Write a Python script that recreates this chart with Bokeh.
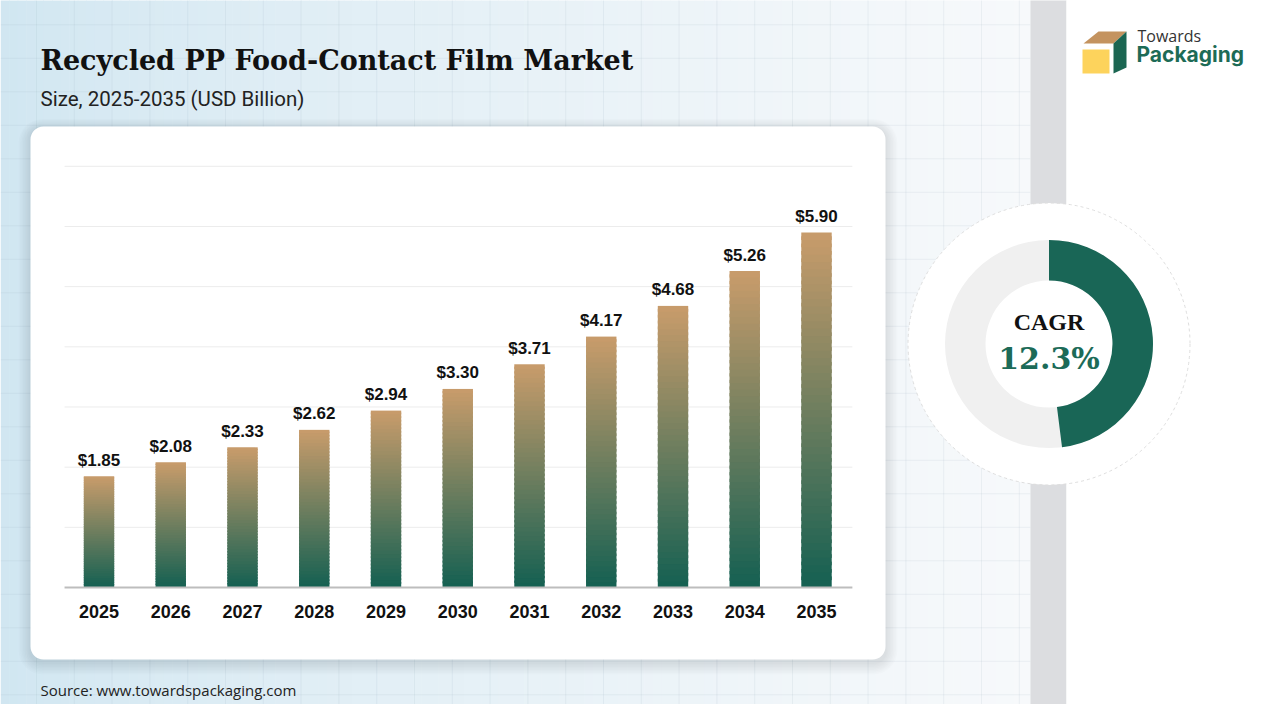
import numpy as np
from bokeh.plotting import figure
from bokeh.models import Range1d, BoxAnnotation
from bokeh.embed import file_html
from bokeh.resources import INLINE
from bokeh.core.properties import value

# ---------------- data ----------------
years = [2025, 2026, 2027, 2028, 2029, 2030, 2031, 2032, 2033, 2034, 2035]
year_labels = ["2025", "2026", "2027", "2028", "2029", "2030", "2031", "2032", "2033", "2034", "2035"]
market_size = [1.85, 2.08, 2.33, 2.62, 2.94, 3.30, 3.71, 4.17, 4.68, 5.26, 5.90]
value_labels = ["$1.85", "$2.08", "$2.33", "$2.62", "$2.94", "$3.30", "$3.71", "$4.17", "$4.68", "$5.26", "$5.90"]
gridline_values = [1, 2, 3, 4, 5, 6, 7]
title_text = "Recycled PP Food-Contact Film Market"
subtitle_text = "Size, 2025-2035 (USD Billion)"
source_text = "Source: www.towardspackaging.com"
cagr_title = "CAGR"
cagr_label = "12.3%"
cagr_arc_share = 0.48

# ---------------- page frame (pixel-like coordinates) ----------------
W, H = 1264, 704


def Y(yi):
    return 720 - yi


def hexc(c):
    c = np.clip(np.round(c), 0, 255).astype(int)
    return "#%02x%02x%02x" % tuple(c)


p = figure(width=W, height=H, x_range=Range1d(0, 1264), y_range=Range1d(16, 720),
           output_backend="svg", toolbar_location=None, min_border=0,
           x_axis_location=None, y_axis_location=None)
p.grid.visible = False
p.outline_line_color = None
p.background_fill_color = "white"
p.border_fill_color = "white"

# data ranges for the bar chart
p.extra_x_ranges = {"yr": Range1d(2023.6272, 2041.2439)}
p.extra_y_ranges = {"val": Range1d(-1.9445, 9.7557)}

# ---------------- background gradient ----------------
n = 120
xs = np.linspace(0, 1030, n + 1)
c0 = np.array([208, 230, 241])
c1 = np.array([247, 249, 251])
mid = (xs[:-1] + xs[1:]) / 2
t = mid / 1030
cols = [hexc(c0 + (c1 - c0) * (tt ** 0.75)) for tt in t]
r = p.quad(left=xs[:-1], right=xs[1:] + 0.6, bottom=0, top=730,
           fill_color=cols, line_color=None)
r.level = "image"

# background grid
vx = np.arange(36, 1030, 37.8)
r = p.segment(x0=vx, x1=vx, y0=0, y1=730, line_color="#8fa9b6", line_alpha=0.13, line_width=1)
r.level = "image"
hy = np.arange(24.3, 720, 33.5)
r = p.segment(x0=0, x1=1030, y0=Y(hy), y1=Y(hy), line_color="#8fa9b6", line_alpha=0.13, line_width=1)
r.level = "image"

# grey stripe and right white panel
r = p.quad(left=1030, right=1066, bottom=0, top=730, fill_color="#dcdde0", line_color=None)
r.level = "image"
r = p.quad(left=1066, right=1280, bottom=0, top=730, fill_color="#ffffff", line_color=None)
r.level = "image"

# ---------------- card ----------------
for e in range(1, 9):
    sh = BoxAnnotation(left=30 - e * 1.5, right=885 + e * 1.5,
                       top=Y(126 - e * 1.2 + 2), bottom=Y(659 + e * 1.5 + 3),
                       fill_color="#000000", fill_alpha=0.010, line_color=None,
                       border_radius=int(12 + e * 1.5), level="underlay")
    p.add_layout(sh)
card = BoxAnnotation(left=30, right=885, top=Y(126), bottom=Y(659),
                     fill_color="#ffffff", fill_alpha=1.0, line_color=None,
                     border_radius=13, level="underlay")
p.add_layout(card)

# ---------------- bar chart ----------------
x_lo = years[0] - 0.48
x_hi = years[-1] + 0.5
p.segment(x0=[x_lo] * len(gridline_values), x1=[x_hi] * len(gridline_values),
          y0=gridline_values, y1=gridline_values,
          x_range_name="yr", y_range_name="val", line_color="#ececec", line_width=1)

N = 48
bot_c = np.array([20, 96, 82])
top_c = np.array([201, 156, 107])
L, R_, B, T, C = [], [], [], [], []
half = 0.212
for yr, v in zip(years, market_size):
    for j in range(N):
        b = v * j / N
        tp = v * (j + 1) / N
        if j < N - 1:
            tp += v / N * 0.5
        L.append(yr - half)
        R_.append(yr + half)
        B.append(b)
        T.append(tp)
        C.append(hexc(bot_c + (top_c - bot_c) * ((j + 0.5) / N)))
p.quad(left=L, right=R_, bottom=B, top=T, fill_color=C, line_color=None,
       x_range_name="yr", y_range_name="val")

p.segment(x0=[x_lo], x1=[x_hi], y0=[0], y1=[0], x_range_name="yr", y_range_name="val",
          line_color="#bdbdbd", line_width=2)

p.text(x=years, y=market_size, text=value_labels, x_range_name="yr", y_range_name="val",
       text_align="center", text_baseline="alphabetic", y_offset=-16,
       text_font=value("Liberation Sans"), text_font_style="bold",
       text_font_size="17px", text_color="#111111")
p.text(x=years, y=[0] * len(years), text=year_labels, x_range_name="yr", y_range_name="val",
       text_align="center", text_baseline="alphabetic", y_offset=24,
       text_font=value("Liberation Sans"), text_font_style="bold",
       text_font_size="18px", text_color="#111111")

# ---------------- titles ----------------
p.text(x=[40], y=[Y(60)], text=[title_text], text_align="left", text_baseline="alphabetic",
       text_font=value("DejaVu Serif"), text_font_style="bold",
       text_font_size="27px", text_color="#111111")
p.text(x=[40], y=[Y(98)], text=[subtitle_text], text_align="left", text_baseline="alphabetic",
       text_font=value("Roboto"), text_font_size="20.5px", text_color="#222222")
p.text(x=[40], y=[Y(689)], text=[source_text], text_align="left", text_baseline="alphabetic",
       text_font=value("Open Sans"), text_font_size="15px", text_color="#222222")

# ---------------- CAGR donut ----------------
cx, cy = 1048.5, Y(343.5)
p.circle(x=[cx], y=[cy], radius=141, fill_color="#ffffff", line_color="#dedede",
         line_dash="3 3", line_width=1)
p.annulus(x=[cx], y=[cy], inner_radius=63.5, outer_radius=104,
          fill_color="#f0f0f0", line_color=None)
p.annular_wedge(x=[cx], y=[cy], inner_radius=63.5, outer_radius=104,
                start_angle=np.pi / 2, end_angle=np.pi / 2 - 2 * np.pi * cagr_arc_share,
                direction="clock", fill_color="#196656", line_color=None)
p.text(x=[cx], y=[Y(321)], text=[cagr_title], text_align="center", text_baseline="alphabetic",
       text_font=value("Liberation Serif"), text_font_style="bold",
       text_font_size="24px", text_color="#111111")
p.text(x=[cx], y=[Y(358)], text=[cagr_label], text_align="center", text_baseline="alphabetic",
       text_font=value("DejaVu Serif"), text_font_style="bold",
       text_font_size="30px", text_color="#1c6b58")

# ---------------- logo ----------------
p.patch(x=[1083, 1113, 1126, 1098], y=[Y(43), Y(43), Y(31), Y(31)],
        fill_color="#c4935f", line_color=None)
p.patch(x=[1113, 1126, 1126, 1113], y=[Y(43), Y(31), Y(67), Y(73)],
        fill_color="#1b6652", line_color=None)
p.quad(left=[1082], right=[1109], top=[Y(49)], bottom=[Y(73)],
       fill_color="#fdd35c", line_color=None)
p.text(x=[1137], y=[Y(35)], text=["Towards"], text_align="left", text_baseline="alphabetic",
       text_font=value("Open Sans"), text_font_size="16px", text_color="#333333")
p.text(x=[1136], y=[Y(54)], text=["Packaging"], text_align="left", text_baseline="alphabetic",
       text_font=value("Inter"), text_font_style="bold",
       text_font_size="21px", text_color="#1d6b56")

open("out.html", "w").write(file_html(p, INLINE))
